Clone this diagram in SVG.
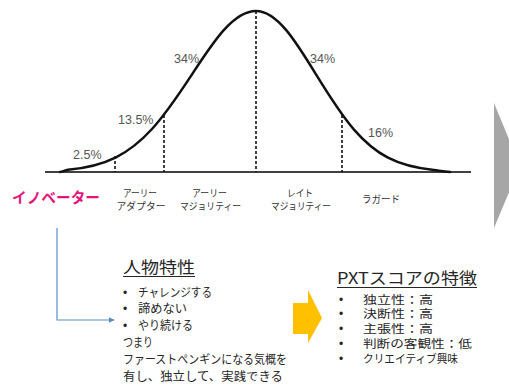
<svg xmlns="http://www.w3.org/2000/svg" width="509" height="387" viewBox="0 0 509 387">
  <style>
    .pct { font-family: "Liberation Sans", Arial, sans-serif; font-size: 12.5px; fill: #555555; }
    .cat { font-family: "Noto Sans CJK JP", sans-serif; font-size: 9.8px; fill: #333333; text-anchor: middle; }
    .jp { font-family: "Noto Sans CJK JP", sans-serif; font-size: 12px; fill: #262626; }
    .jpr { font-family: "Noto Sans CJK JP", sans-serif; font-size: 11.5px; fill: #262626; }
    .title { font-family: "Noto Sans CJK JP", sans-serif; font-size: 16px; fill: #262626; }
    .bul { font-family: "Liberation Sans", Arial, sans-serif; font-size: 12px; fill: #262626; }
    .dash { stroke: #111111; stroke-width: 1.6; stroke-dasharray: 3 2; fill: none; }
    .ul { stroke: #262626; stroke-width: 1.1; }
  </style>
  <defs>
    <marker id="arr" viewBox="0 0 10 10" refX="9" refY="5" markerWidth="6" markerHeight="6" markerUnits="userSpaceOnUse" orient="auto">
      <path d="M0,0 L10,5 L0,10 z" fill="#5B8BC9"/>
    </marker>
  </defs>
  <rect width="509" height="387" fill="#ffffff"/>

  <g id="chart">
    <line x1="45" y1="172" x2="471" y2="172" stroke="#404040" stroke-width="2"/>
    <line class="dash" x1="115" y1="156" x2="115" y2="172"/>
    <line class="dash" x1="164" y1="115" x2="164" y2="172"/>
    <line class="dash" x1="256" y1="11" x2="256" y2="172"/>
    <line class="dash" x1="342" y1="115" x2="342" y2="172"/>
    <path d="M60,172 C63,171.5 65,170.3 68,169.8 C84,168.2 100,165.3 116,157.3 C128,151.3 140,142.1 152,129 C165.3,114.4 178.7,94.7 192,74.4 C202.7,58.1 213.3,41.7 224,29.9 C234.7,18.1 245.3,11 256,11 C266,11 276,18.1 286,29.9 C296,41.7 306,58.1 316,74.4 C328.7,95 341.3,115 354,129.6 C365.3,142.7 376.7,151.8 388,157.7 C403.3,165.7 418.7,168.5 434,170 C440,170.8 444,171.6 450,172" fill="none" stroke="#111111" stroke-width="2.5" stroke-linecap="round"/>
    <text class="pct" x="73" y="159">2.5%</text>
    <text class="pct" x="118" y="124">13.5%</text>
    <text class="pct" x="174" y="63">34%</text>
    <text class="pct" x="310" y="63">34%</text>
    <text class="pct" x="368" y="137">16%</text>
  </g>

  <g id="labels">
    <text x="12" y="203" font-family="'Noto Sans CJK JP', sans-serif" font-size="15" font-weight="bold" fill="#E4157A" textLength="88" lengthAdjust="spacingAndGlyphs">イノベーター</text>
    <text class="cat"><tspan x="140" y="197" textLength="34" lengthAdjust="spacingAndGlyphs">アーリー</tspan><tspan x="141" y="210" textLength="49" lengthAdjust="spacingAndGlyphs">アダプター</tspan></text>
    <text class="cat"><tspan x="209.5" y="197" textLength="35" lengthAdjust="spacingAndGlyphs">アーリー</tspan><tspan x="210.5" y="210" textLength="61" lengthAdjust="spacingAndGlyphs">マジョリティー</tspan></text>
    <text class="cat"><tspan x="300" y="197" textLength="26" lengthAdjust="spacingAndGlyphs">レイト</tspan><tspan x="301" y="210" textLength="60" lengthAdjust="spacingAndGlyphs">マジョリティー</tspan></text>
    <text class="cat" x="381" y="203" textLength="38" lengthAdjust="spacingAndGlyphs">ラガード</text>
  </g>

  <g id="gray-arrow">
    <polygon points="494,103 520,166 494,228" fill="#A6A6A6"/>
  </g>

  <g id="yellow-arrow">
    <polygon points="293,303 308,303 308,290 322,318 308,343 308,334 293,334" fill="#FFC000"/>
  </g>

  <g id="person-traits">
    <text class="title" x="123" y="273" textLength="72" lengthAdjust="spacingAndGlyphs">人物特性</text>
    <line class="ul" x1="123" y1="276.5" x2="195" y2="276.5"/>
    <text class="bul" x="123" y="296.5">•</text>
    <text class="jp" x="138" y="296.5" textLength="74" lengthAdjust="spacingAndGlyphs">チャレンジする</text>
    <text class="bul" x="123" y="313.3">•</text>
    <text class="jp" x="138" y="313.3" textLength="49" lengthAdjust="spacingAndGlyphs">諦めない</text>
    <text class="bul" x="123" y="330.1">•</text>
    <text class="jp" x="138" y="330.1" textLength="55" lengthAdjust="spacingAndGlyphs">やり続ける</text>
    <text class="jp" x="123" y="346.9" textLength="30" lengthAdjust="spacingAndGlyphs">つまり</text>
    <text class="jp" x="123" y="363.7" textLength="164" lengthAdjust="spacingAndGlyphs">ファーストペンギンになる気概を</text>
    <text class="jp" x="123" y="380.5" textLength="160" lengthAdjust="spacingAndGlyphs">有し、独立して、実践できる</text>
  </g>

  <g id="pxt-features">
    <text class="title" x="337" y="284" textLength="140" lengthAdjust="spacingAndGlyphs">PXTスコアの特徴</text>
    <line class="ul" x1="337" y1="287.5" x2="477" y2="287.5"/>
    <text class="bul" x="339" y="303.5">•</text>
    <text class="jpr" x="363" y="303.5" textLength="70" lengthAdjust="spacingAndGlyphs">独立性：高</text>
    <text class="bul" x="339" y="318.25">•</text>
    <text class="jpr" x="363" y="318.25" textLength="70" lengthAdjust="spacingAndGlyphs">決断性：高</text>
    <text class="bul" x="339" y="333">•</text>
    <text class="jpr" x="363" y="333" textLength="70" lengthAdjust="spacingAndGlyphs">主張性：高</text>
    <text class="bul" x="339" y="347.75">•</text>
    <text class="jpr" x="363" y="347.75" textLength="109" lengthAdjust="spacingAndGlyphs">判断の客観性：低</text>
    <text class="bul" x="339" y="362.5">•</text>
    <text class="jpr" x="363" y="362.5" textLength="95" lengthAdjust="spacingAndGlyphs">クリエイティブ興味</text>
  </g>

  <g id="connectors">
    <path d="M57,228 L57,320 L114,320" fill="none" stroke="#5B8BC9" stroke-width="1.2" marker-end="url(#arr)"/>
  </g>
</svg>
